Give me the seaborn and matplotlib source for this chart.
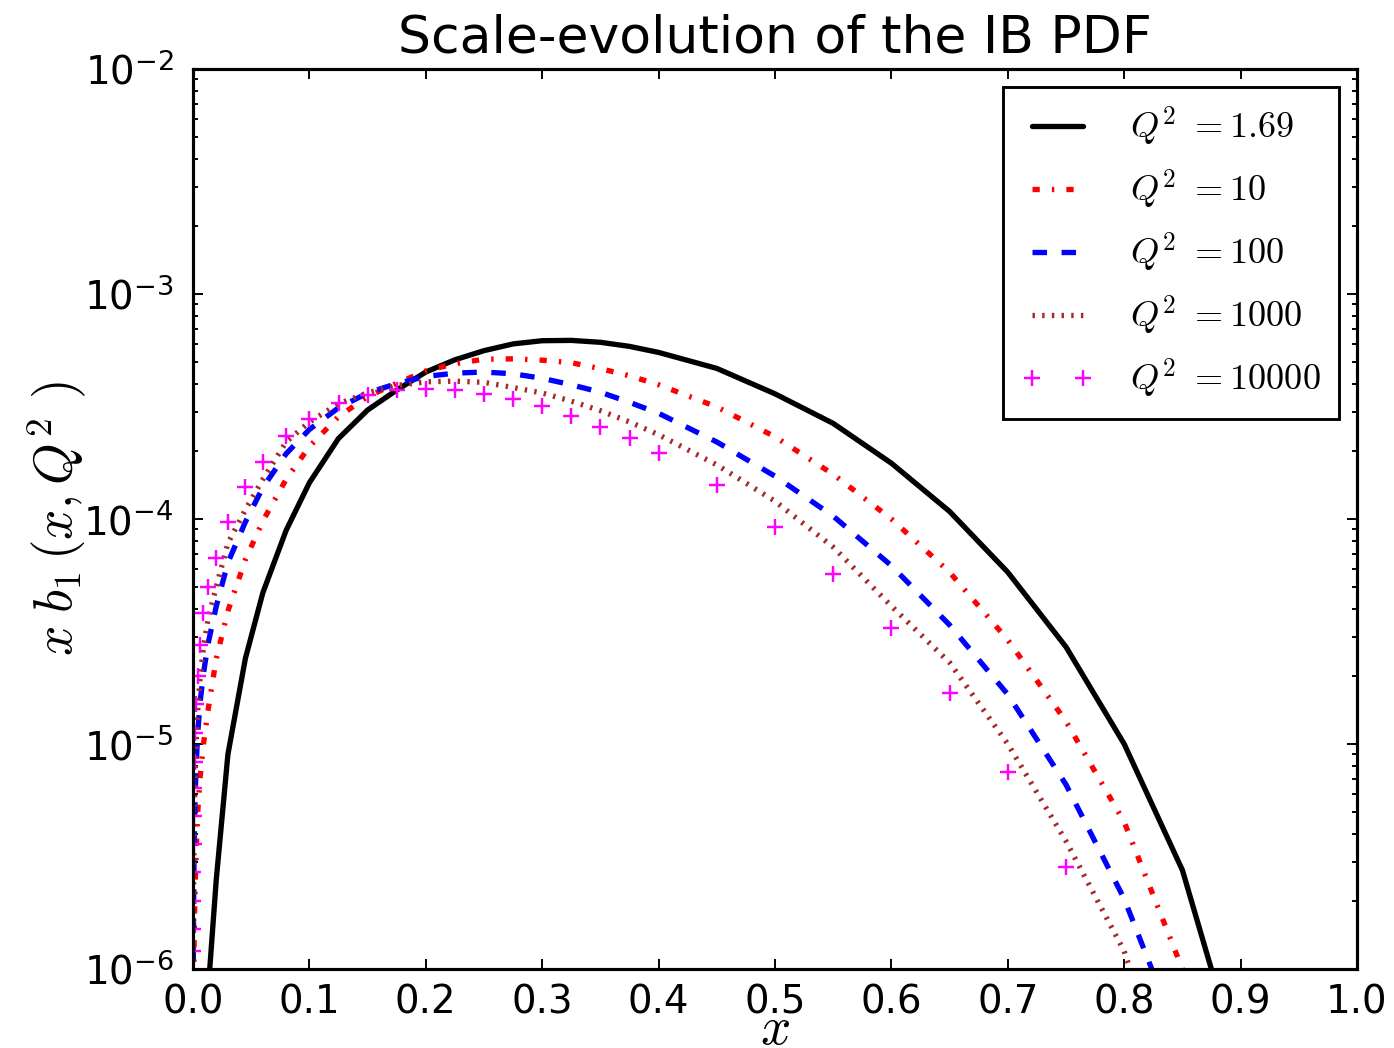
import matplotlib
matplotlib.use("Agg")
import matplotlib.pyplot as plt
import seaborn as sns
import numpy as np

# ---------------- data ----------------
x_vals = [7e-5, 1e-4, 1.4e-4, 2e-4, 3e-4, 4.5e-4, 6.5e-4, 9e-4, 1.3e-3, 1.9e-3,
          2.8e-3, 4e-3, 6e-3, 9e-3, 0.013, 0.02, 0.03, 0.045, 0.06, 0.08,
          0.1, 0.125, 0.15, 0.175, 0.2, 0.225, 0.25, 0.275, 0.3, 0.325,
          0.35, 0.375, 0.4, 0.45, 0.5, 0.55, 0.6, 0.65, 0.7, 0.75,
          0.8, 0.85, 0.9, 0.95]

q2_1p69 = [2e-12, 5e-12, 1.2e-11, 3e-11, 8e-11, 2e-10, 5e-10, 1.2e-9, 3e-9, 8e-9,
           2e-8, 5e-8, 1.3e-7, 3.5e-7, 8e-7, 2.5e-6, 9e-6, 2.4e-5, 4.7e-5, 8.9e-5,
           1.45e-4, 2.28e-4, 3.05e-4, 3.74e-4, 4.5e-4, 5.1e-4, 5.6e-4, 6.0e-4, 6.2e-4, 6.22e-4,
           6.1e-4, 5.85e-4, 5.5e-4, 4.67e-4, 3.6e-4, 2.66e-4, 1.77e-4, 1.08e-4, 5.8e-5, 2.7e-5,
           1.0e-5, 2.75e-6, 3.6e-7, 1e-8]

q2_10 = [1e-7, 1.4e-7, 2e-7, 2.9e-7, 4.2e-7, 5.9e-7, 8.4e-7, 1.2e-6, 1.7e-6, 2.4e-6,
         3.4e-6, 4.9e-6, 7.0e-6, 1.0e-5, 1.42e-5, 2.4e-5, 3.9e-5, 6.6e-5, 9.8e-5, 1.5e-4,
         2.1e-4, 2.85e-4, 3.5e-4, 4.01e-4, 4.55e-4, 4.9e-4, 5.13e-4, 5.15e-4, 5.08e-4, 4.95e-4,
         4.66e-4, 4.33e-4, 3.95e-4, 3.15e-4, 2.32e-4, 1.58e-4, 1.0e-4, 5.8e-5, 2.9e-5, 1.26e-5,
         4.5e-6, 1.0e-6, 1.5e-7, 2e-9]

q2_100 = [2.8e-7, 4e-7, 5.5e-7, 7.8e-7, 1.1e-6, 1.55e-6, 2.2e-6, 3.1e-6, 4.45e-6, 6.0e-6,
          8.2e-6, 1.1e-5, 1.52e-5, 2.06e-5, 2.8e-5, 4.1e-5, 6.4e-5, 9.7e-5, 1.38e-4, 1.95e-4,
          2.5e-4, 3.12e-4, 3.63e-4, 4.0e-4, 4.3e-4, 4.45e-4, 4.5e-4, 4.42e-4, 4.22e-4, 3.95e-4,
          3.66e-4, 3.3e-4, 2.95e-4, 2.2e-4, 1.55e-4, 1.03e-4, 6.2e-5, 3.38e-5, 1.66e-5, 6.6e-6,
          2.05e-6, 4.5e-7, 3e-8, 1e-9]

q2_1000 = [4.2e-7, 5.8e-7, 8e-7, 1.1e-6, 1.5e-6, 2.1e-6, 2.9e-6, 4.0e-6, 5.5e-6, 7.5e-6,
           1.02e-5, 1.4e-5, 1.95e-5, 2.7e-5, 3.6e-5, 5.0e-5, 7.8e-5, 1.1e-4, 1.5e-4, 2.2e-4,
           2.7e-4, 3.25e-4, 3.64e-4, 3.92e-4, 4.07e-4, 4.1e-4, 4.05e-4, 3.84e-4, 3.63e-4, 3.34e-4,
           3.03e-4, 2.7e-4, 2.37e-4, 1.74e-4, 1.2e-4, 7.5e-5, 4.1e-5, 2.3e-5, 1.0e-5, 3.7e-6,
           1.2e-6, 2e-7, 1e-8, 1e-10]

q2_10000 = [9e-7, 1.2e-6, 1.5e-6, 2.0e-6, 2.7e-6, 3.6e-6, 4.8e-6, 6.4e-6, 8.3e-6, 1.12e-5,
            1.5e-5, 2.0e-5, 2.75e-5, 3.82e-5, 5.0e-5, 6.7e-5, 9.7e-5, 1.39e-4, 1.8e-4, 2.34e-4,
            2.77e-4, 3.27e-4, 3.56e-4, 3.74e-4, 3.78e-4, 3.74e-4, 3.6e-4, 3.41e-4, 3.18e-4, 2.88e-4,
            2.57e-4, 2.28e-4, 1.96e-4, 1.41e-4, 9.2e-5, 5.7e-5, 3.27e-5, 1.69e-5, 7.5e-6, 2.83e-6,
            8e-7, 1.5e-7, 1.5e-8, 1e-10]

labels = [r'$Q^2\ {=}1.69$', r'$Q^2\ {=}10$', r'$Q^2\ {=}100$',
          r'$Q^2\ {=}1000$', r'$Q^2\ {=}10000$']
x_ticks = [0.0, 0.1, 0.2, 0.3, 0.4, 0.5, 0.6, 0.7, 0.8, 0.9, 1.0]
title = "Scale-evolution of the IB PDF"

# ---------------- style ----------------
sns.set_style("ticks")
plt.rcParams.update({
    "font.family": ["DejaVu Sans"],
    "mathtext.fontset": "cm",
    "axes.unicode_minus": False,
    "lines.scale_dashes": False,
    "axes.linewidth": 1.3,
    "xtick.direction": "in",
    "ytick.direction": "in",
    "xtick.top": True,
    "ytick.right": True,
    "text.color": "black",
    "axes.labelcolor": "black",
    "axes.edgecolor": "black",
    "xtick.color": "black",
    "ytick.color": "black",
    "xtick.labelcolor": "black",
    "ytick.labelcolor": "black",
})

DPI = 174.25
fig = plt.figure(figsize=(1394 / DPI, 1048 / DPI), dpi=DPI)
fig.patch.set_facecolor("white")
ax = fig.add_axes([193 / 1394, 1 - 969 / 1048, (1357 - 193) / 1394, (969 - 69) / 1048])
ax.set_facecolor("white")

series = [q2_1p69, q2_10, q2_100, q2_1000]
colors = ["black", "#ff0000", "#0000ff", "#a52a2a"]
dash_styles = [None, (3, 5, 1, 5), (6, 6), (1, 3)]

for ys, c, d, lab in zip(series, colors, dash_styles, labels[:4]):
    sns.lineplot(x=x_vals, y=ys, ax=ax, color=c, linewidth=2.2, label=lab,
                 estimator=None, sort=False)
    line = ax.lines[-1]
    if d is not None:
        line.set_dashes(d)
        line.set_dash_capstyle("butt")

sns.lineplot(x=x_vals, y=q2_10000, ax=ax, color="#ff00ff", linestyle="none",
             marker="+", markersize=7, markeredgewidth=1.0,
             markeredgecolor="#ff00ff", markerfacecolor="#ff00ff",
             label=labels[4], estimator=None, sort=False)

ax.set_yscale("log")
ax.set_xlim(0.0, 1.0)
ax.set_ylim(1e-6, 1e-2)
ax.set_xticks(x_ticks)
ax.set_xticklabels([f"{t:.1f}" for t in x_ticks])

ax.tick_params(axis="both", which="major", labelsize=16, length=4, width=0.8, pad=6,
               colors="black")
ax.tick_params(axis="y", which="major", pad=8)
ax.tick_params(axis="y", which="minor", length=2, width=0.8, colors="black")
for s in ax.spines.values():
    s.set_linewidth(1.3)
    s.set_color("black")

ax.set_title(title, fontsize=21.5, pad=7, color="black")
ax.set_xlabel(r"$x$", fontsize=22, labelpad=-7.5, color="black")
ax.set_ylabel(r"$x\;b_1\,(x,Q^2\ )$", fontsize=22, labelpad=-2, color="black")

leg = ax.legend(loc="upper right", fontsize=15, numpoints=2, handlelength=2.0,
                handletextpad=1.0, borderaxespad=0.5, fancybox=False,
                edgecolor="black", framealpha=1, labelspacing=0.52,
                borderpad=0.5)
leg.get_frame().set_linewidth(1.2)
for t in leg.get_texts():
    t.set_color("black")

fig.savefig("out.png", dpi=DPI, facecolor="white")
